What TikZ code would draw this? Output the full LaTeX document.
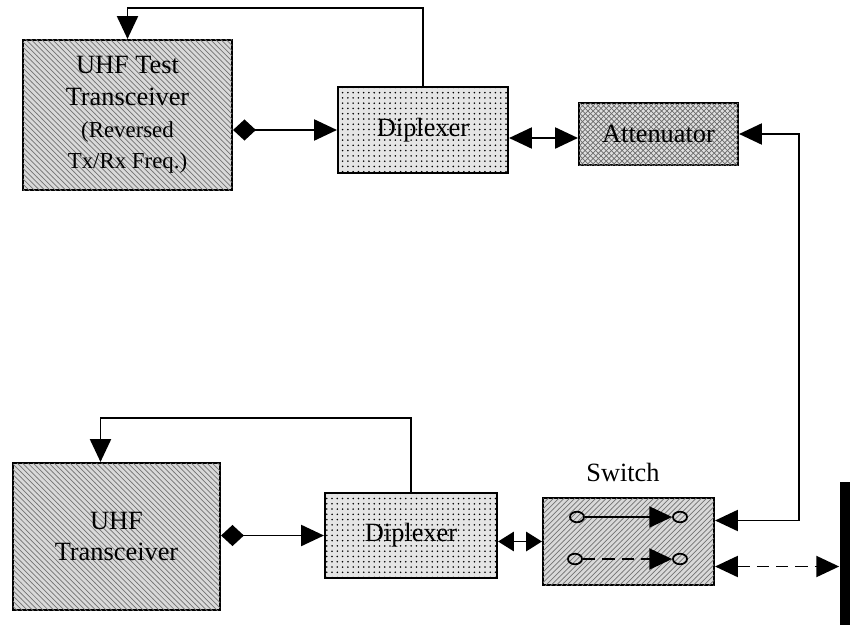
\documentclass[tikz,border=0pt]{standalone}
\usepackage{fontspec}
\setmainfont{Liberation Serif}
\usetikzlibrary{arrows.meta,patterns,calc,shapes.geometric}

\begin{document}
\begin{tikzpicture}[x=0.02cm,y=-0.02cm,line width=1pt,
  box/.style={draw,line width=1.2pt,inner sep=2pt,align=center,font=\fontsize{15}{18}\selectfont},
  tx/.style={box,fill=gray!30,postaction={pattern=north west lines,pattern color=gray!90!black}},
  dip/.style={box,fill=gray!20,postaction={pattern=dots,pattern color=black}},
  att/.style={box,fill=gray!25,postaction={pattern=crosshatch,pattern color=gray!85!black}},
  sw/.style={box,fill=gray!30,postaction={pattern=north east lines,pattern color=gray!90!black}},
  port/.style={draw,ellipse,minimum width=8pt,minimum height=6pt,inner sep=0pt},
  dsh/.style={dash pattern=on 7pt off 4pt},
  tip/.style={-{Triangle[length=13pt,width=12pt]}},
  both/.style={{Triangle[length=13pt,width=12pt]}-{Triangle[length=13pt,width=12pt]}}]%,cap=round]
\useasboundingbox (0,0) rectangle (851,625);

\node [tx,minimum width=209*0.02cm,minimum height=150*0.02cm] (tx1) at (127.5,115)
  {UHF Test\\Transceiver\\{\fontsize{13}{15}\selectfont(Reversed}\\{\fontsize{13}{15}\selectfont Tx/Rx Freq.)}};
\node [dip,minimum width=170*0.02cm,minimum height=86*0.02cm] (dip1) at (423,130) {Diplexer};
\node [att,minimum width=159*0.02cm,minimum height=62*0.02cm] (att) at (658.5,134) {Attenuator};

\node [tx,minimum width=207*0.02cm,minimum height=147*0.02cm] (tx2) at (116.5,536.5) {UHF\\Transceiver};
\node [dip,minimum width=172*0.02cm,minimum height=85*0.02cm] (dip2) at (411,535.5) {Diplexer};
\node [sw,minimum width=171*0.02cm,minimum height=87*0.02cm] (sw) at (628.5,541.5) {};
\node [font=\fontsize{15}{18}\selectfont] (swl) at (623,472) {Switch};
\node [fill=black,minimum width=10*0.02cm,minimum height=143*0.02cm,inner sep=0pt] (wall) at (845,553.5) {};

\node [port] (p1) at (577,517) {};
\node [port] (p2) at (680,517) {};
\node [port] (p3) at (575,559) {};
\node [port] (p4) at (680,559) {};
\draw [tip] (p1) -- (p2.west);
\draw [tip,dsh] (p3) -- (p4.west);

\draw [{Diamond[length=13pt,width=12pt]}-{Triangle[length=13pt,width=12pt]}] (tx1.east |- dip1.west) -- (dip1.west);
\draw [tip] (dip1.north) -- (dip1.north |- 0,8) -| (tx1.north);
\draw [both] (dip1.east |- 0,138) -- (att.west |- 0,138);
\draw [both] (att.east) -- ++(60,0) |- ($(sw.east)+(0,-21)$);

\draw [{Diamond[length=13pt,width=12pt]}-{Triangle[length=13pt,width=12pt]}] (tx2.east |- dip2.west) -- (dip2.west);
\draw [tip] (dip2.north) -- (dip2.north |- 0,418) -| ($(tx2.north)+(-16,0)$);
\draw [{Triangle[length=9pt,width=11pt]}-{Triangle[length=9pt,width=11pt]}] (dip2.east |- sw.west) -- (sw.west);
\draw [both,dsh] ($(sw.east)+(0,25)$) -- (wall.west |- 0,566.5);
\end{tikzpicture}
\end{document}
